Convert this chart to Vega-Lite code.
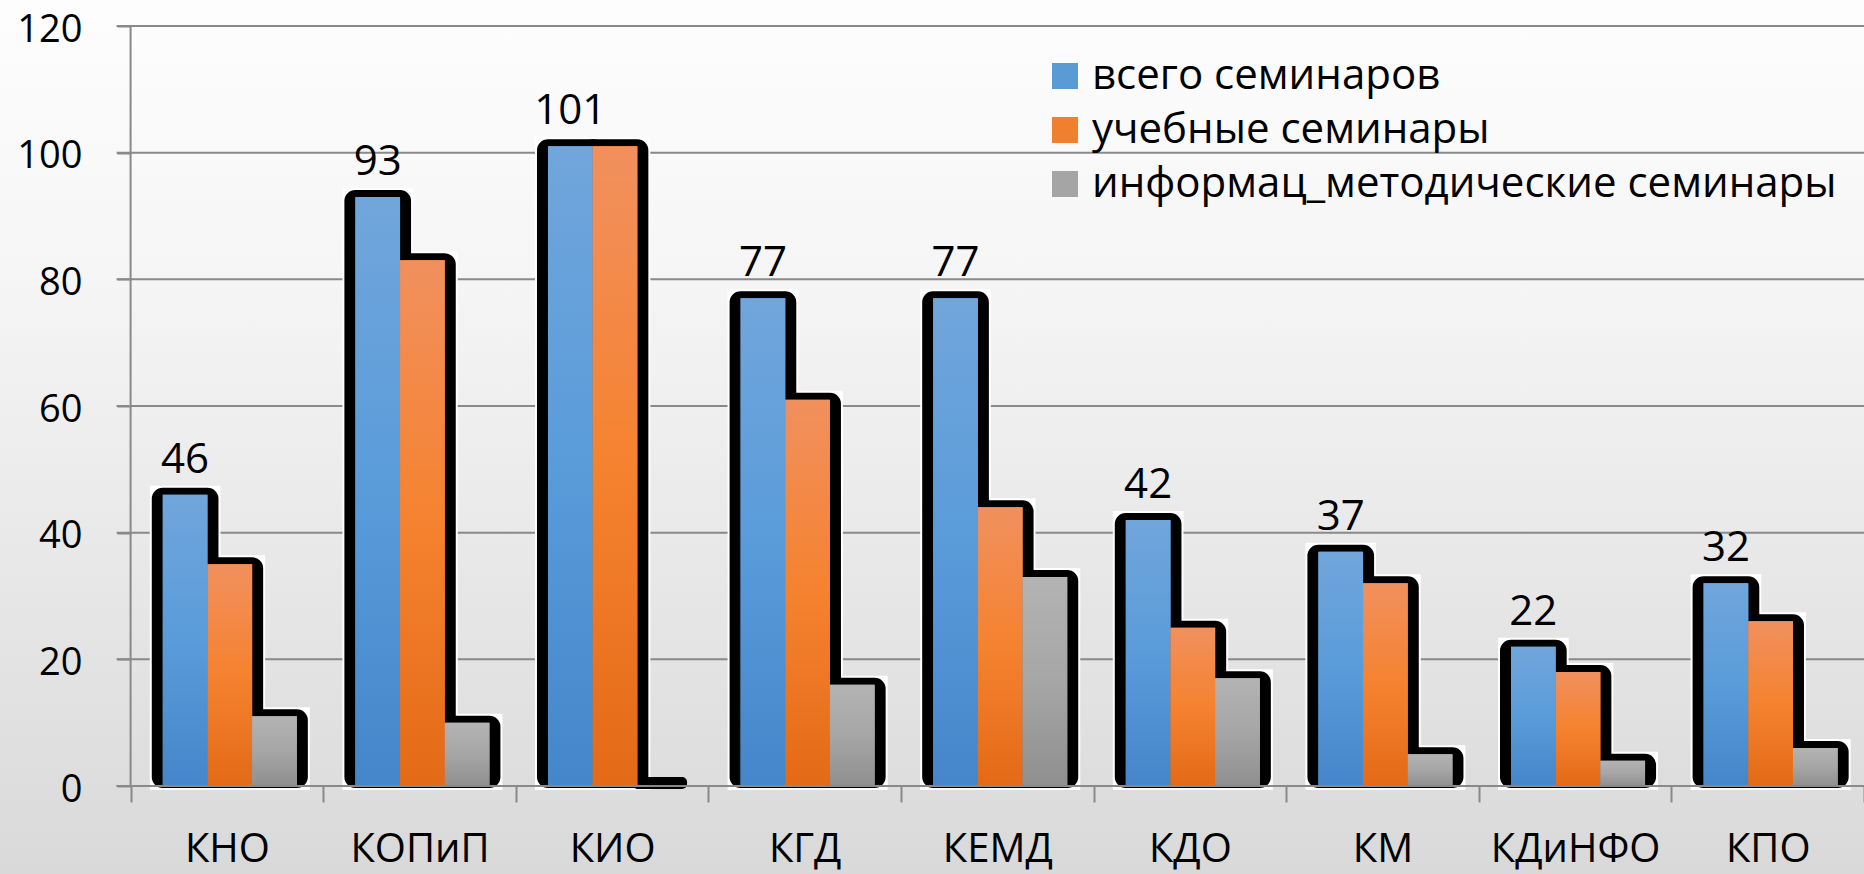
{
  "$schema": "https://vega.github.io/schema/vega-lite/v6.json",
  "width": 1864,
  "height": 874,
  "autosize": {"type": "none"},
  "padding": 0,
  "background": "#EFEFEF",
  "config": {
    "font": "Open Sans",
    "view": {
      "stroke": null,
      "fill": {"gradient": "linear", "x1": 0, "y1": 0, "x2": 0, "y2": 1,
        "stops": [{"offset": 0, "color": "#FDFDFD"}, {"offset": 0.3, "color": "#F6F6F6"}, {"offset": 1, "color": "#D9D9D9"}]}
    }
  },
  "datasets": {
    "bars": [
      {"cat": "КНО", "series": "всего семинаров", "v": 46},
      {"cat": "КНО", "series": "учебные семинары", "v": 35},
      {"cat": "КНО", "series": "информац_методические семинары", "v": 11},
      {"cat": "КОПиП", "series": "всего семинаров", "v": 93},
      {"cat": "КОПиП", "series": "учебные семинары", "v": 83},
      {"cat": "КОПиП", "series": "информац_методические семинары", "v": 10},
      {"cat": "КИО", "series": "всего семинаров", "v": 101},
      {"cat": "КИО", "series": "учебные семинары", "v": 101},
      {"cat": "КИО", "series": "информац_методические семинары", "v": 0},
      {"cat": "КГД", "series": "всего семинаров", "v": 77},
      {"cat": "КГД", "series": "учебные семинары", "v": 61},
      {"cat": "КГД", "series": "информац_методические семинары", "v": 16},
      {"cat": "КЕМД", "series": "всего семинаров", "v": 77},
      {"cat": "КЕМД", "series": "учебные семинары", "v": 44},
      {"cat": "КЕМД", "series": "информац_методические семинары", "v": 33},
      {"cat": "КДО", "series": "всего семинаров", "v": 42},
      {"cat": "КДО", "series": "учебные семинары", "v": 25},
      {"cat": "КДО", "series": "информац_методические семинары", "v": 17},
      {"cat": "КМ", "series": "всего семинаров", "v": 37},
      {"cat": "КМ", "series": "учебные семинары", "v": 32},
      {"cat": "КМ", "series": "информац_методические семинары", "v": 5},
      {"cat": "КДиНФО", "series": "всего семинаров", "v": 22},
      {"cat": "КДиНФО", "series": "учебные семинары", "v": 18},
      {"cat": "КДиНФО", "series": "информац_методические семинары", "v": 4},
      {"cat": "КПО", "series": "всего семинаров", "v": 32},
      {"cat": "КПО", "series": "учебные семинары", "v": 26},
      {"cat": "КПО", "series": "информац_методические семинары", "v": 6}
    ],
    "grid": [{"v": 0}, {"v": 20}, {"v": 40}, {"v": 60}, {"v": 80}, {"v": 100}, {"v": 120}]
  },
  "layer": [
    {
      "data": {"name": "grid"},
      "mark": {"type": "rule", "stroke": "#898989", "strokeWidth": 2, "xOffset": -14},
      "encoding": {
        "y": {
          "field": "v", "type": "quantitative",
          "scale": {"domain": [-13.89, 124.11], "nice": false, "zero": false},
          "axis": {
            "offset": -131, "domain": false, "grid": false, "tickSize": 14, "tickColor": "#898989", "tickWidth": 2,
            "labelPadding": 35, "labelFontSize": 38, "labelOffset": 4, "labelFont": "Open Sans", "labelColor": "#000000",
            "values": [0, 20, 40, 60, 80, 100, 120], "title": null, "zindex": 1
          }
        },
        "x": {
          "datum": "КНО", "type": "nominal", "bandPosition": 0,
          "scale": {"type": "band", "domain": ["КНО", "КОПиП", "КИО", "КГД", "КЕМД", "КДО", "КМ", "КДиНФО", "КПО"], "paddingInner": 0, "paddingOuter": 0.339, "align": 1},
          "axis": {
            "orient": "bottom", "offset": -88, "tickBand": "extent", "domain": false, "grid": false,
            "tickSize": 16, "tickColor": "#898989", "tickWidth": 2, "labelPadding": 27,
            "labelFontSize": 40, "labelFont": "Open Sans", "labelColor": "#000000", "labelAngle": 0,
            "labelOverlap": false, "title": null, "zindex": 1
          }
        },
        "x2": {"value": "width"}
      }
    },
    {
      "data": {"values": [{}]},
      "mark": {"type": "rule", "stroke": "#898989", "strokeWidth": 2},
      "encoding": {
        "x": {"datum": "КНО", "type": "nominal", "bandPosition": 0},
        "y": {"datum": 0, "type": "quantitative"},
        "y2": {"datum": 120}
      }
    },
    {
      "data": {"name": "bars"},
      "transform": [{"filter": "datum.v > 0"}],
      "mark": {"type": "bar", "fill": "#FFFFFF", "stroke": "#FFFFFF", "strokeWidth": 26, "strokeJoin": "miter", "yOffset": 4, "y2Offset": -9},
      "encoding": {
        "x": {"field": "cat", "type": "nominal"},
        "xOffset": {"field": "series", "type": "nominal", "scale": {"domain": ["всего семинаров", "учебные семинары", "информац_методические семинары"], "paddingInner": 0, "paddingOuter": 0.655, "align": 0.55}},
        "y": {"field": "v", "type": "quantitative", "stack": null},
        "y2": {"datum": 0}
      }
    },
    {
      "data": {"name": "bars"},
      "transform": [{"filter": "datum.v > 0"}],
      "mark": {"type": "bar", "fill": "#000000", "stroke": "#000000", "strokeWidth": 22, "strokeJoin": "round", "yOffset": 4, "y2Offset": -9},
      "encoding": {
        "x": {"field": "cat", "type": "nominal"},
        "xOffset": {"field": "series", "type": "nominal"},
        "y": {"field": "v", "type": "quantitative", "stack": null},
        "y2": {"datum": 0}
      }
    },
    {
      "data": {"name": "bars"},
      "transform": [{"filter": "datum.v == 0"}],
      "mark": {"type": "bar", "fill": "#000000", "stroke": "#000000", "strokeWidth": 10, "strokeJoin": "round", "yOffset": -4, "y2Offset": -2},
      "encoding": {
        "x": {"field": "cat", "type": "nominal"},
        "xOffset": {"field": "series", "type": "nominal"},
        "y": {"field": "v", "type": "quantitative", "stack": null},
        "y2": {"datum": 0}
      }
    },
    {
      "data": {"name": "bars"},
      "mark": {"type": "bar"},
      "encoding": {
        "x": {"field": "cat", "type": "nominal"},
        "xOffset": {"field": "series", "type": "nominal"},
        "y": {"field": "v", "type": "quantitative", "stack": null},
        "color": {
          "field": "series", "type": "nominal",
          "scale": {"domain": ["всего семинаров", "учебные семинары", "информац_методические семинары"], "range": ["#5B9BD5", "#F07F2E", "#A5A5A5"]},
          "legend": {
            "orient": "none", "legendX": 1044, "legendY": 55, "title": null, "symbolType": "square",
            "symbolSize": 676, "symbolStrokeWidth": 0, "labelFontSize": 42, "labelFont": "Open Sans",
            "labelColor": "#000000", "labelOffset": 6, "rowPadding": 12, "padding": 0, "labelLimit": 900
          }
        }
      }
    },
    {
      "data": {"name": "bars"},
      "transform": [{"filter": "datum.series == 'всего семинаров'"}],
      "mark": {"type": "bar", "fill": {"gradient": "linear", "x1": 0, "y1": 0, "x2": 0, "y2": 1,
        "stops": [{"offset": 0, "color": "#70A6DB"}, {"offset": 0.5, "color": "#5A9BDA"}, {"offset": 1, "color": "#4486C9"}]}},
      "encoding": {
        "x": {"field": "cat", "type": "nominal"},
        "xOffset": {"field": "series", "type": "nominal"},
        "y": {"field": "v", "type": "quantitative", "stack": null}
      }
    },
    {
      "data": {"name": "bars"},
      "transform": [{"filter": "datum.series == 'учебные семинары'"}],
      "mark": {"type": "bar", "fill": {"gradient": "linear", "x1": 0, "y1": 0, "x2": 0, "y2": 1,
        "stops": [{"offset": 0, "color": "#F1905E"}, {"offset": 0.5, "color": "#F5822F"}, {"offset": 1, "color": "#E36A17"}]}},
      "encoding": {
        "x": {"field": "cat", "type": "nominal"},
        "xOffset": {"field": "series", "type": "nominal"},
        "y": {"field": "v", "type": "quantitative", "stack": null}
      }
    },
    {
      "data": {"name": "bars"},
      "transform": [{"filter": "datum.series == 'информац_методические семинары'"}],
      "mark": {"type": "bar", "fill": {"gradient": "linear", "x1": 0, "y1": 0, "x2": 0, "y2": 1,
        "stops": [{"offset": 0, "color": "#B3B3B3"}, {"offset": 0.5, "color": "#A6A6A6"}, {"offset": 1, "color": "#8F8F8F"}]}},
      "encoding": {
        "x": {"field": "cat", "type": "nominal"},
        "xOffset": {"field": "series", "type": "nominal"},
        "y": {"field": "v", "type": "quantitative", "stack": null}
      }
    },
    {
      "data": {"name": "grid"},
      "transform": [{"filter": "datum.v == 0"}],
      "mark": {"type": "rule", "stroke": "#898989", "strokeWidth": 2, "xOffset": -14},
      "encoding": {
        "y": {"field": "v", "type": "quantitative"},
        "x": {"datum": "КНО", "type": "nominal", "bandPosition": 0},
        "x2": {"value": "width"}
      }
    },
    {
      "data": {"name": "bars"},
      "transform": [{"filter": "datum.series == 'всего семинаров'"}],
      "mark": {"type": "text", "dy": -22, "baseline": "alphabetic", "fontSize": 42, "font": "Open Sans", "color": "#000000"},
      "encoding": {
        "x": {"field": "cat", "type": "nominal"},
        "xOffset": {"field": "series", "type": "nominal"},
        "y": {"field": "v", "type": "quantitative", "stack": null},
        "text": {"field": "v", "type": "quantitative"}
      }
    }
  ]
}
